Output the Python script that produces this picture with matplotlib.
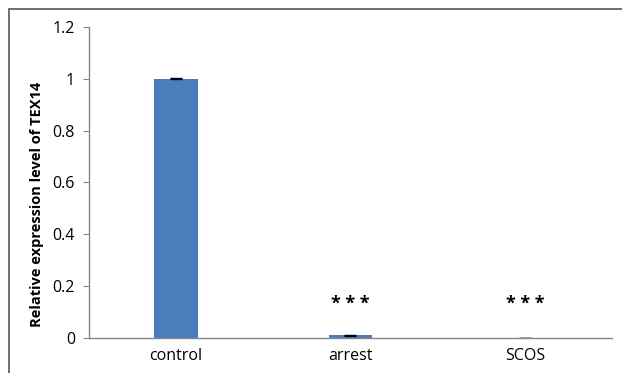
import matplotlib
matplotlib.use("Agg")
import matplotlib.pyplot as plt
from matplotlib.patches import Rectangle

categories = ["control", "arrest", "SCOS"]
values = [1.0, 0.01, 0.001]
errors = [0.002, 0.002, 0.0005]
stars = ["", "* * *", "* * *"]
star_y = 0.13
yticks = [0, 0.2, 0.4, 0.6, 0.8, 1, 1.2]
ytick_labels = ["0", "0.2", "0.4", "0.6", "0.8", "1", "1.2"]

plt.rcParams['font.family'] = ['Open Sans', 'DejaVu Sans']

fig = plt.figure(figsize=(6.22, 3.73), dpi=100)
ax = fig.add_axes([0.143, 0.094, 0.841, 0.834])

x = list(range(len(categories)))
ax.bar(x, values, width=0.25, color="#4a7ebb", yerr=errors,
       error_kw=dict(ecolor="black", elinewidth=1, capsize=4, capthick=1))
for xi, s in zip(x, stars):
    if s:
        ax.text(xi, star_y, s, ha="center", va="center", fontsize=13,
                fontweight="bold")

ax.set_xlim(-0.5, len(categories) - 0.5)
ax.set_ylim(0, 1.2)
ax.set_yticks(yticks)
ax.set_yticklabels(ytick_labels, fontsize=11.5)
ax.set_xticks(x)
ax.set_xticklabels(categories, fontsize=11.5)
ax.tick_params(axis="x", length=0, pad=7)
ax.tick_params(axis="y", length=4, color="#888888", pad=6)
ax.set_ylabel("Relative expression level of TEX14", fontsize=10.5,
              fontweight="bold")
ax.yaxis.set_label_coords(-0.085, 0.43)
for side in ("top", "right"):
    ax.spines[side].set_visible(False)
for side in ("left", "bottom"):
    ax.spines[side].set_color("#888888")
    ax.spines[side].set_linewidth(1)

fig.patches.append(Rectangle((9 / 622, -0.1), 1.2, 1.0 - 9 / 373 + 0.1,
                             transform=fig.transFigure, fill=False,
                             edgecolor="#555555", linewidth=1.2))

fig.savefig("out.png", dpi=100)
